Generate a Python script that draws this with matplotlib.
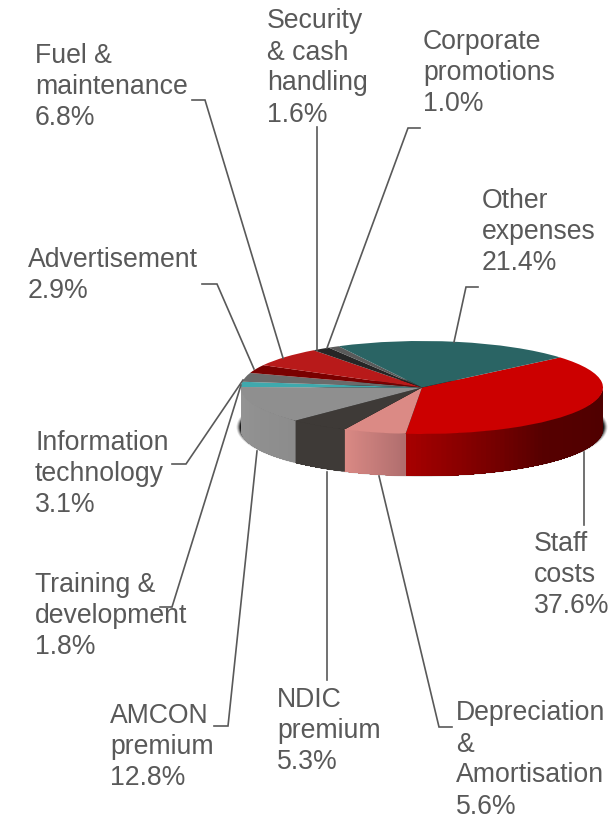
import numpy as np
import matplotlib
matplotlib.use("Agg")
import matplotlib.pyplot as plt
from matplotlib.colors import LinearSegmentedColormap
from matplotlib.patches import Ellipse

plt.rcParams["font.family"] = ["Liberation Sans", "DejaVu Sans"]

# clockwise from the teal / red boundary
categories = ["Staff\ncosts", "Depreciation\n&\nAmortisation", "NDIC\npremium", "AMCON\npremium",
              "Training &\ndevelopment", "Information\ntechnology", "Advertisement",
              "Fuel &\nmaintenance", "Security\n& cash\nhandling", "Corporate\npromotions",
              "Other\nexpenses"]
values = [37.6, 5.6, 5.3, 12.8, 1.8, 3.1, 2.9, 6.8, 1.6, 1.0, 21.4]
top_colors = ["#CC0000", "#DB8A85", "#3E3A37", "#8F8F8F", "#3FA9AD", "#6B6B6B",
              "#7A0000", "#B81A1A", "#262626", "#5A5A5A", "#2A6464"]
# side wall shading, from the clockwise start of the slice to its end
wall_colors = [["#4E0000", "#560000", "#A80000"], ["#B06E6E", "#DB8A85"], ["#3E3A37", "#3E3A37"],
               ["#8C8C8C", "#959595"], None, None, None, None, None, None, None]
start_angle = 40.3

# pie geometry in pixels
cx, cy, rx, ry, depth = 422, 387.5, 181, 46.5, 42
W, H = 616, 818
GREY = "#595959"

# text anchor (left, middle) of each label
label_x = [534, 456, 277, 110, 35, 35, 28, 35, 267, 423, 482]
label_y = [575, 760, 731, 747, 616, 474, 275.5, 87, 68, 73, 232]

# leader polylines in pixels
leaders = [
    [(584, 525), (584, 452)],
    [(452, 727), (439, 727), (379, 476)],
    [(327, 680), (327, 472)],
    [(214, 726), (228, 726), (257, 451)],
    [(160, 607), (172, 607), (241, 385)],
    [(172, 464), (186, 464), (243, 380)],
    [(202, 284), (217, 284), (254, 369)],
    [(192, 100), (205, 100), (283, 358)],
    [(317, 127), (317, 350)],
    [(420, 128), (408, 128), (327, 348)],
    [(478, 287), (466, 287), (454, 342)],
]

fig = plt.figure(figsize=(W / 100, H / 100), dpi=100)

# pie axes: unit circle shows up as the flattened top ellipse
ax = fig.add_axes([0, 0, 1, 1])
ax.pie(values, colors=top_colors, startangle=start_angle, counterclock=False,
       radius=1, wedgeprops={"linewidth": 0, "zorder": 5})
ax.set_aspect("auto")
ax.set_xlim(-cx / rx, (W - cx) / rx)
ax.set_ylim((cy - H) / ry, cy / ry)

d = depth / ry

# soft shadow under the wall
for grow, alpha in [(4.5, 0.12), (3.5, 0.2), (2.5, 0.35), (1.5, 0.6), (0.5, 0.9)]:
    ax.add_patch(Ellipse((0, -d + 0.05), 2 * (rx + grow) / rx, 2 * (ry + grow * 0.7) / ry,
                         fc="black", ec="none", alpha=alpha, zorder=1))

# side wall, drawn as thin overlapping strips
edges = start_angle - np.cumsum([0] + values) * 3.6
for i, stops in enumerate(wall_colors):
    if stops is None:
        continue
    a0, a1 = edges[i], edges[i + 1]
    cmap = LinearSegmentedColormap.from_list("wall", stops)
    a_vis = np.linspace(min(a0, 0), a1, 60)
    frac = (a_vis - a_vis[0]) / (a_vis[-1] - a_vis[0])
    for k in range(len(a_vis) - 1):
        # each strip runs on to the slice end so no seams show
        t = np.radians(np.linspace(a_vis[k], a1, 30))
        xs, ys = np.cos(t), np.sin(t)
        ax.fill(np.r_[xs, xs[::-1]], np.r_[ys, ys[::-1] - d], color=cmap(frac[k]), lw=0, zorder=2 + i * 0.01)

# overlay in pixel coordinates for labels and leaders
ov = fig.add_axes([0, 0, 1, 1], facecolor="none")
ov.set_xlim(0, W)
ov.set_ylim(H, 0)
ov.axis("off")

for pts in leaders:
    xs, ys = zip(*pts)
    ov.plot(xs, ys, color=GREY, lw=1.2, solid_joinstyle="miter")

for name, val, x, y in zip(categories, values, label_x, label_y):
    ov.text(x, y, f"{name}\n{val:.1f}%", color=GREY, fontsize=19.2, ha="left", va="center",
            linespacing=1.25)

fig.savefig("out.png", dpi=100)
